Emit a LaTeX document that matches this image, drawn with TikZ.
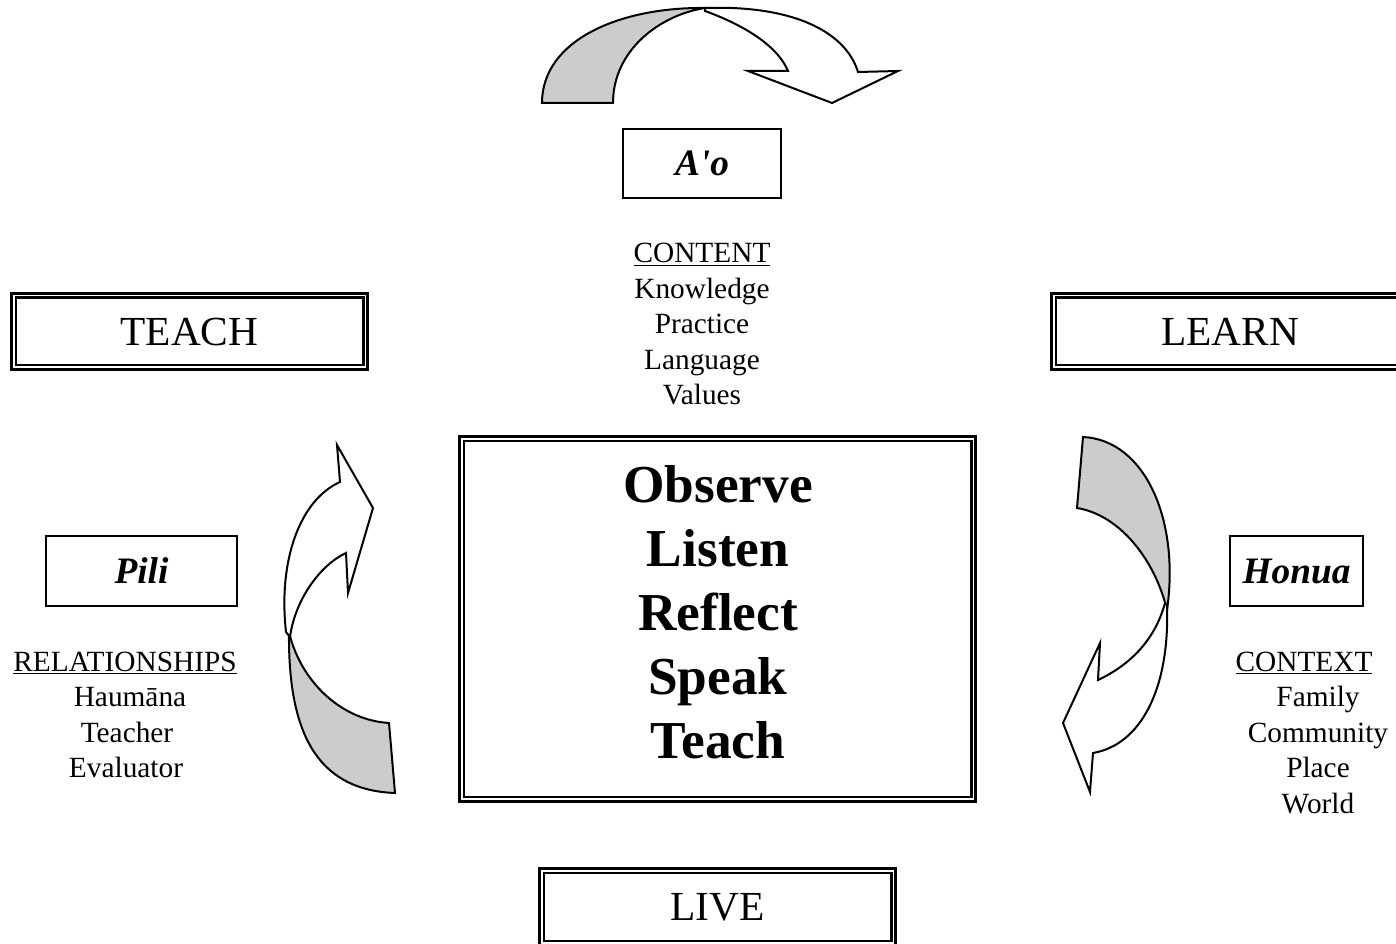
\documentclass[tikz,border=0pt]{standalone}
\usepackage{fontspec}
\setmainfont{Liberation Serif}[Ligatures=TeXOff]
\begin{document}
\begin{tikzpicture}[x=0.75pt,y=-0.75pt,
  dbl/.style={draw, line width=2.1pt, inner sep=0pt, outer sep=0pt,
    font=\fontsize{31}{36}\selectfont, text height=20.5pt, text depth=0pt},
  single/.style={draw, line width=1.4pt, inner sep=0pt, outer sep=0pt,
    font=\bfseries\itshape\fontsize{28}{33}\selectfont, text height=18.5pt, text depth=0pt},
  lbl/.style={anchor=base, inner sep=0pt, font=\fontsize{22}{26.6}\selectfont},
  big/.style={anchor=base, inner sep=0pt, font=\bfseries\fontsize{40}{48}\selectfont},
  back/.style={draw, fill=black!20, line width=1.5pt, line join=miter},
  front/.style={draw, fill=white, line width=1.5pt, line join=miter}]
\useasboundingbox (0,0) rectangle (1396,944);

% double-line boxes
\node[dbl, minimum width=267.3pt, minimum height=57.3pt] (teach) at (189.5,331.5) {TEACH};
\node[dbl, minimum width=267.3pt, minimum height=57.3pt] (learn) at (1230,331.5) {LEARN};
\node[dbl, minimum width=267.3pt, minimum height=57.3pt] (live) at (717.5,907) {LIVE};
\node[dbl, minimum width=387.3pt, minimum height=274pt] (core) at (717.5,619) {};
\foreach \b in {teach,learn,live,core}
  \draw[line width=1.6pt] ([xshift=3.2pt,yshift=-3.2pt]\b.north west) rectangle ([xshift=-3.2pt,yshift=3.2pt]\b.south east);

% single boxes
\node[single, minimum width=118.9pt, minimum height=52.1pt] (ao) at (702,163.5) {A'o};
\node[single, minimum width=143.6pt, minimum height=52.9pt] (pili) at (141.5,571) {Pili};
\node[single, minimum width=100.1pt, minimum height=52.9pt] (honua) at (1296.5,571) {Honua};

% centre words
\node[big] (w1) at (718,502.5) {Observe};
\node[big] (w2) at (718,566) {Listen};
\node[big] (w3) at (718,630) {Reflect};
\node[big] (w4) at (718,694) {Speak};
\node[big] (w5) at (718,758) {Teach};

% content list
\node[lbl] (c0) at (702,263) {\underline{CONTENT}};
\node[lbl] (c1) at (702,298.5) {Knowledge};
\node[lbl] (c2) at (702,334) {Practice};
\node[lbl] (c3) at (702,369.5) {Language};
\node[lbl] (c4) at (702,405) {Values};

% relationships list
\node[lbl] (r0) at (125,671) {\underline{RELATIONSHIPS}};
\node[lbl] (r1) at (130,706.5) {Haumāna};
\node[lbl] (r2) at (127,742) {Teacher};
\node[lbl] (r3) at (126,777.5) {Evaluator};

% context list
\node[lbl] (x0) at (1304,671) {\underline{CONTEXT}};
\node[lbl] (x1) at (1318,706.5) {Family};
\node[lbl] (x2) at (1318,742) {Community};
\node[lbl] (x3) at (1318,777.5) {Place};
\node[lbl] (x4) at (1318,813) {World};

% top curved arrow
\path[back] (542,103) .. controls (542,40) and (620,7) .. (705,8)
  .. controls (660,15) and (613,50) .. (613,103) -- cycle;
\path[front] (705,8) .. controls (790,5) and (845,30) .. (858,72) -- (898,71) -- (832,103)
  -- (748,71) -- (788,71) .. controls (775,40) and (730,20) .. (705,11) -- cycle;

% left curved arrow
\path[back] (289,632) .. controls (288,730) and (315,790) .. (395,793) -- (389,723)
  .. controls (340,720) and (300,680) .. (289,632) -- cycle;
\path[front] (286,632) .. controls (278,560) and (300,500) .. (340,482) -- (337,445)
  -- (373,508) -- (348,593) -- (346,553) .. controls (320,565) and (295,600) .. (290,637) -- cycle;

% right curved arrow
\path[back] (1083,437) .. controls (1145,440) and (1180,520) .. (1167,610)
  .. controls (1155,560) and (1120,515) .. (1077,508) -- cycle;
\path[front] (1167,605) .. controls (1170,690) and (1140,745) .. (1093,753) -- (1090,792)
  -- (1063,723) -- (1100,643) -- (1098,680) .. controls (1130,665) and (1155,640) .. (1165,603) -- cycle;
\end{tikzpicture}
\end{document}
